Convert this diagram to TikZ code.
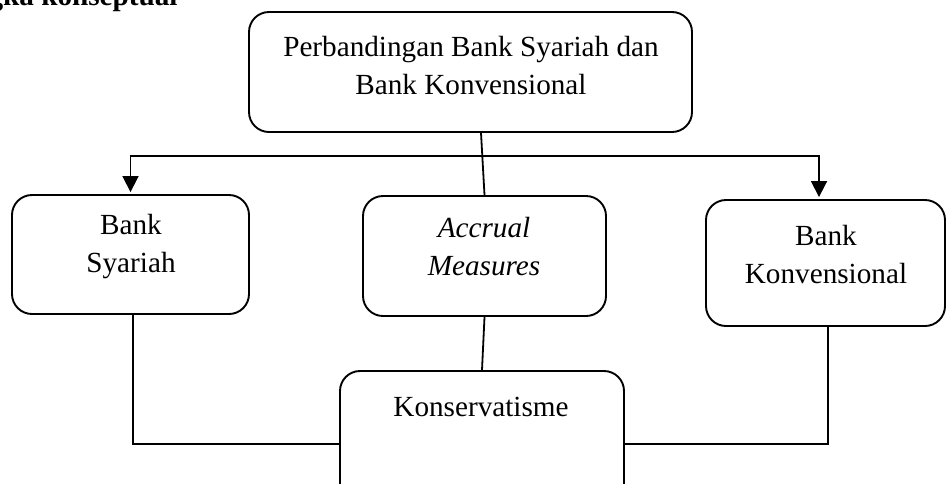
\documentclass[tikz,border=0pt]{standalone}
\usepackage{fontspec}
\setmainfont{Liberation Serif}
\usetikzlibrary{arrows.meta,calc}
\begin{document}
\begin{tikzpicture}[x=0.5pt,y=-0.5pt,
  box/.style={draw, line width=0.95pt, rounded corners=10pt, inner sep=0pt},
  txt/.style={align=center, font=\fontsize{14.6}{19}\selectfont, inner sep=0pt},
  conn/.style={line width=0.9pt},
  arr/.style={conn, -{Triangle[length=8pt,width=8pt]}}]
\clip (0,0) rectangle (946,483);
% title (cut off at the top)
\node[anchor=base east, font=\bfseries\fontsize{14.6}{19}\selectfont, inner sep=0pt] (title) at (178,5) {gka konseptual};
% boxes
\node[box, minimum width=221.5pt, minimum height=60pt] (top) at (470.5,72) {};
\node[txt] (topt) at (471,66) {Perbandingan Bank Syariah dan\\Bank Konvensional};
\node[box, minimum width=118.5pt, minimum height=59.5pt] (bs) at (130.5,254.5) {};
\node[txt] (bst) at (131,246.5) {Bank\\Syariah};
\node[box, minimum width=121.5pt, minimum height=60pt] (mid) at (484.5,256) {};
\node[txt, font=\itshape\fontsize{14.6}{19}\selectfont] (midt) at (484,247) {Accrual\\Measures};
\node[box, minimum width=119.5pt, minimum height=63pt] (bk) at (825.5,263) {};
\node[txt] (bkt) at (826,255) {Bank\\Konvensional};
\node[box, minimum width=142pt, minimum height=73pt] (kon) at (482,444) {};
\node[txt, anchor=base] (kont) at (481,416) {Konservatisme};
% connectors
\coordinate (j) at (481,156);
\draw[conn] (top.south -| j) -- (mid.north);
\draw[arr] (j) -| ([yshift=1pt]bs.north);
\draw[arr] (j) -| ([xshift=-3.25pt,yshift=1pt]bk.north);
\draw[conn] (mid.south) -- (kon.north);
\draw[conn] ([xshift=1.25pt]bs.south) |- (kon.west);
\draw[conn] ([xshift=1.25pt]bk.south) |- (kon.east);
\end{tikzpicture}
\end{document}
